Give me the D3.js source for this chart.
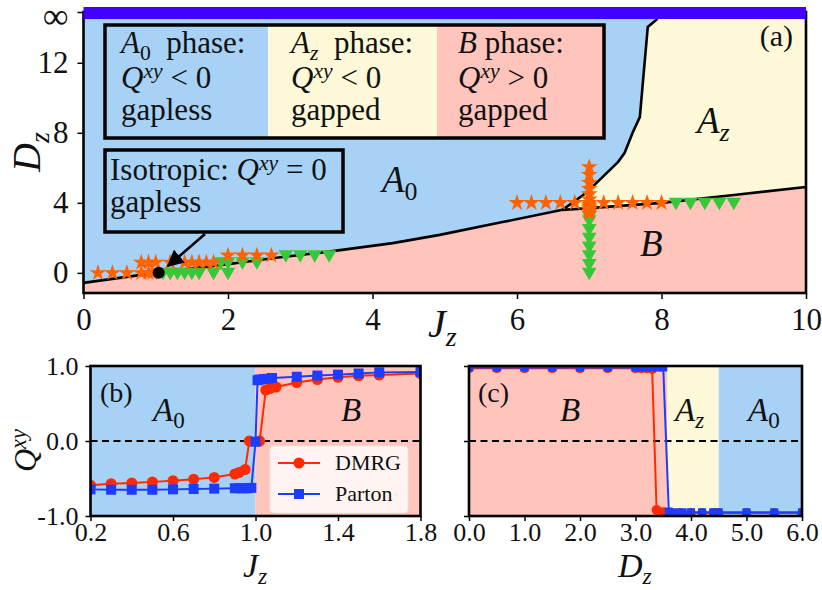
<!DOCTYPE html>
<html lang="en">
<head>
<meta charset="UTF-8">
<title>Phase diagram</title>
<script src="https://d3js.org/d3.v7.min.js"></script>
<style>
  body { margin: 0; background: #fff; }
  svg text { font-family: 'Liberation Serif', 'Times New Roman', serif; fill: #111; }
</style>
</head>
<body>
<div id="chart"></div>
<script>
// ---- data ----
// phase boundaries of panel (a)
const lowerJz = [0, 1, 2, 2.67, 3.37, 4.28, 4.93, 5.8, 6.63, 7, 8, 9, 10];
const lowerDz = [-0.57, 0.0, 0.5, 0.86, 1.2, 1.7, 2.17, 2.9, 3.6, 3.7, 4.0, 4.45, 4.9];
const upperJz = [6.63, 6.96, 7.19, 7.4, 7.49, 7.6, 7.7, 7.81, 7.93, 7.98];
const upperDz = [3.6, 4.57, 5.5, 6.34, 6.86, 8.0, 8.9, 14.05, 14.46, 14.9];

// horizontal cuts: Dz of each row, Jz of stars (Q<0) and triangles (Q>0)
const rowDz = [0, 0.6, 1.0, 4.0];
const rowStars = [
  [0.2, 0.4, 0.6, 0.8, 0.9, 0.95],
  [0.8, 0.9, 1.0, 1.2, 1.4, 1.5, 1.6, 1.7, 1.8],
  [2.0, 2.2, 2.4, 2.6],
  [6.0, 6.2, 6.4, 6.6, 6.8, 7.2, 7.4, 7.6, 7.8, 8.0]
];
const rowTris = [
  [1.1, 1.2, 1.3, 1.4, 1.5, 1.6, 1.8, 2.0],
  [1.9, 2.0, 2.2, 2.4],
  [2.8, 3.0, 3.2, 3.4],
  [8.2, 8.4, 8.6, 8.8, 9.0]
];
// vertical cut at Jz = 7
const colJz = 7;
const colStars = [3.4, 3.5, 3.6, 3.7, 3.8, 3.9, 4.0, 4.2, 4.5, 4.8, 5.15, 5.6, 6.05];
const colTris = [0, 0.5, 1.0, 1.5, 2.0, 2.5, 3.0, 3.2];
const isoPoint = [1.04, 0];

// panel (b): Q^xy vs Jz
const bPhaseEdges = [0.2, 1.0, 1.8];
const dmrgJz = [0.2, 0.3, 0.4, 0.5, 0.6, 0.7, 0.8, 0.9, 0.92, 0.95, 0.97, 1.02, 1.05, 1.07, 1.1, 1.2, 1.3, 1.4, 1.5, 1.6, 1.8];
const dmrgQ  = [-0.59, -0.57, -0.56, -0.545, -0.53, -0.51, -0.485, -0.44, -0.42, -0.38, 0.0, 0.0, 0.68, 0.70, 0.72, 0.78, 0.82, 0.85, 0.87, 0.88, 0.90];
const partonJz = [0.2, 0.3, 0.4, 0.5, 0.6, 0.7, 0.8, 0.9, 0.92, 0.94, 0.96, 0.98, 1.0, 1.01, 1.02, 1.04, 1.06, 1.08, 1.2, 1.3, 1.4, 1.5, 1.6, 1.8];
const partonQ  = [-0.645, -0.65, -0.65, -0.65, -0.645, -0.64, -0.635, -0.63, -0.63, -0.63, -0.63, -0.625, -0.01, 0.81, 0.82, 0.825, 0.83, 0.84, 0.857, 0.873, 0.885, 0.9, 0.915, 0.92];

// panel (c): Q^xy vs Dz at Jz = 7
const cPhaseEdges = [0, 3.57, 4.5, 6.0];
const dmrgDz = [0, 0.5, 1.0, 1.5, 2.0, 2.5, 3.0, 3.1, 3.2, 3.3, 3.38, 3.5, 3.6, 3.8, 4.0, 4.2, 4.4, 4.5, 5.0, 5.5, 6.0];
const dmrgQc = [0.97, 0.97, 0.97, 0.97, 0.97, 0.97, 0.97, 0.97, 0.97, 0.96, -0.92, -0.95, -0.96, -0.96, -0.96, -0.96, -0.96, -0.96, -0.96, -0.96, -0.96];
const partonDz = [0, 0.5, 1.0, 1.5, 2.0, 2.5, 3.0, 3.1, 3.2, 3.3, 3.4, 3.5, 3.6, 3.7, 3.85, 4.0, 4.2, 4.4, 4.5, 5.0, 5.5, 6.0];
const partonQc = [0.98, 0.98, 0.98, 0.98, 0.98, 0.98, 0.98, 0.98, 0.98, 0.98, 0.98, 0.98, -0.94, -0.95, -0.95, -0.95, -0.95, -0.95, -0.95, -0.95, -0.95, -0.95];

// ---- colours ----
const cBlue = '#a7d2f6', cYellow = '#fdf8d7', cPink = '#ffc5bd';
const cStar = '#ff6200', cTri = '#37c837';
const cRed = '#ff2a00', cLine = '#1e3cff';
const serif = "'Liberation Serif', 'Times New Roman', serif";

const W = 822, H = 590;
const svg = d3.select('#chart').append('svg').attr('width', W).attr('height', H)
  .attr('font-family', serif);

// small helper for math-like text: parts = [[text, style]] with i / sub / sup flags
function math(g, x, y, size, parts, anchor) {
  const t = g.append('text').attr('x', x).attr('y', y)
    .attr('text-anchor', anchor || 'start').attr('font-family', serif)
    .style('font-size', size + 'px').style('white-space', 'pre');
  let shift = 0;
  parts.forEach(([s, st]) => {
    let target = 0, fs = size;
    if (st.includes('sub')) { target = 0.22 * size; fs = 0.7 * size; }
    if (st.includes('sup')) { target = -0.32 * size; fs = 0.7 * size; }
    t.append('tspan').text(s).attr('dy', target - shift)
      .style('font-size', fs + 'px')
      .style('font-style', st.startsWith('i') ? 'italic' : 'normal');
    shift = target;
  });
  return t;
}

function styleAxis(g, fs) {
  g.attr('font-family', serif);
  g.select('.domain').remove();
  g.selectAll('.tick line').attr('stroke', '#000').attr('stroke-width', 1.5);
  g.selectAll('.tick text').style('font-size', fs + 'px').attr('fill', '#111');
}

// =================== panel (a) ===================
const xA = d3.scaleLinear().domain([0, 10]).range([83.5, 806]);
const yA = d3.scaleLinear().domain([-1.15, 14.9]).range([293, 12]);
const gA = svg.append('g');
const [yBot, yTop] = yA.domain();

gA.append('rect').attr('x', xA(0)).attr('y', yA(yTop))
  .attr('width', xA(10) - xA(0)).attr('height', yA(yBot) - yA(yTop)).attr('fill', cBlue);

const lowerPts = lowerJz.map((j, i) => [j, lowerDz[i]]);
const upperPts = upperJz.map((j, i) => [j, upperDz[i]]);
const toPx = p => [xA(p[0]), yA(p[1])];
const line = d3.line();

// B region (below the lower boundary)
const bPoly = [[0, yBot], ...lowerPts, [10, yBot]].map(toPx);
gA.append('path').attr('d', line(bPoly) + 'Z').attr('fill', cPink);
// Az region
const azPoly = [...lowerPts.filter(p => p[0] >= upperJz[0]), [10, yTop], ...upperPts.slice().reverse()].map(toPx);
gA.append('path').attr('d', line(azPoly) + 'Z').attr('fill', cYellow);

gA.append('path').attr('d', line(lowerPts.map(toPx))).attr('fill', 'none')
  .attr('stroke', '#000').attr('stroke-width', 2.6);
gA.append('path').attr('d', line(upperPts.map(toPx))).attr('fill', 'none')
  .attr('stroke', '#000').attr('stroke-width', 2.6);

// markers
const starPath = d3.symbol().type(d3.symbolStar).size(88)();
const triPath = d3.symbol().type(d3.symbolTriangle).size(92)();
const starPts = [], triPts = [];
rowDz.forEach((dz, r) => {
  rowStars[r].forEach(j => starPts.push([j, dz]));
  rowTris[r].forEach(j => triPts.push([j, dz]));
});
colStars.forEach(dz => starPts.push([colJz, dz]));
colTris.forEach(dz => triPts.push([colJz, dz]));

gA.selectAll('path.tri').data(triPts).join('path').attr('class', 'tri')
  .attr('d', triPath).attr('fill', cTri)
  .attr('transform', d => `translate(${xA(d[0])},${yA(d[1]) - 1}) rotate(180)`);
gA.selectAll('path.star').data(starPts).join('path').attr('class', 'star')
  .attr('d', starPath).attr('fill', cStar)
  .attr('transform', d => `translate(${xA(d[0])},${yA(d[1])})`);

gA.append('circle').attr('cx', xA(isoPoint[0])).attr('cy', yA(isoPoint[1])).attr('r', 6).attr('fill', '#000');

// arrow from the isotropic box to the point
svg.append('defs').append('marker').attr('id', 'ah')
  .attr('viewBox', '0 0 10 10').attr('refX', 9).attr('refY', 5)
  .attr('markerWidth', 6.5).attr('markerHeight', 6.5).attr('orient', 'auto')
  .append('path').attr('d', 'M0,0 L10,5 L0,10 Z').attr('fill', '#000');
gA.append('line').attr('x1', 205).attr('y1', 234).attr('x2', 168).attr('y2', 266)
  .attr('stroke', '#000').attr('stroke-width', 2.6).attr('marker-end', 'url(#ah)');

// legend box with three phases
const boxTop = 25, boxBot = 138;
[[105, 268, cBlue], [268, 437, cYellow], [437, 604, cPink]].forEach(([a, b, c]) => {
  gA.append('rect').attr('x', a).attr('y', boxTop).attr('width', b - a).attr('height', boxBot - boxTop).attr('fill', c);
});
gA.append('rect').attr('x', 105).attr('y', boxTop).attr('width', 499).attr('height', boxBot - boxTop)
  .attr('fill', 'none').attr('stroke', '#000').attr('stroke-width', 3.5);

const fsL = 31;
math(gA, 121, 53, fsL, [['A', 'i'], ['0', 'rsub'], ['  phase:', 'r']]);
math(gA, 121, 88, fsL, [['Q', 'i'], ['xy', 'isup'], [' < 0', 'r']]);
math(gA, 121, 120, fsL, [['gapless', 'r']]);
math(gA, 291, 53, fsL, [['A', 'i'], ['z', 'isub'], ['  phase:', 'r']]);
math(gA, 291, 88, fsL, [['Q', 'i'], ['xy', 'isup'], [' < 0', 'r']]);
math(gA, 291, 120, fsL, [['gapped', 'r']]);
math(gA, 458, 53, fsL, [['B', 'i'], [' phase:', 'r']]);
math(gA, 458, 88, fsL, [['Q', 'i'], ['xy', 'isup'], [' > 0', 'r']]);
math(gA, 458, 120, fsL, [['gapped', 'r']]);

gA.append('rect').attr('x', 105).attr('y', 150).attr('width', 238).attr('height', 82)
  .attr('fill', cBlue).attr('stroke', '#000').attr('stroke-width', 3.5);
math(gA, 110, 180, fsL, [['Isotropic: ', 'r'], ['Q', 'i'], ['xy', 'isup'], [' = 0', 'r']]);
math(gA, 110, 212, fsL, [['gapless', 'r']]);

// region labels
math(gA, 382, 192, 37, [['A', 'i'], ['0', 'rsub']]);
math(gA, 697, 133, 37, [['A', 'i'], ['z', 'isub']]);
math(gA, 640, 256, 37, [['B', 'i']]);
gA.append('text').attr('x', 793).attr('y', 46).attr('text-anchor', 'end').style('font-size', '30px').text('(a)');

// spines + axes
gA.append('rect').attr('x', xA(0)).attr('y', yA(yTop)).attr('width', xA(10) - xA(0)).attr('height', yA(yBot) - yA(yTop))
  .attr('fill', 'none').attr('stroke', '#000').attr('stroke-width', 2.6);
const axA = gA.append('g').attr('transform', `translate(0,${yA(yBot)})`)
  .call(d3.axisBottom(xA).tickValues([0, 2, 4, 6, 8, 10]).tickSize(6).tickPadding(9).tickFormat(d3.format('d')));
styleAxis(axA, 31);
const ayA = gA.append('g').attr('transform', `translate(${xA(0)},0)`)
  .call(d3.axisLeft(yA).tickValues([0, 4, 8, 12, yTop]).tickSize(6).tickPadding(9)
    .tickFormat(d => d > 13 ? '\u221e' : d3.format('d')(d)));
styleAxis(ayA, 31);
ayA.selectAll('.tick text').filter(d => d > 13).style('font-size', '36px').attr('dy', '0.42em');

// top strip: Dz = infinity
gA.append('rect').attr('x', xA(0)).attr('y', yA(yTop) - 5).attr('width', xA(10) - xA(0)).attr('height', 12)
  .attr('fill', '#4200ff');

math(svg, 428, 337, 40, [['J', 'i'], ['z', 'isub']]);
math(svg, 0, 0, 40, [['D', 'i'], ['z', 'isub']]).attr('transform', 'translate(40,172) rotate(-90)');

// =================== panels (b), (c) ===================
const yQ = d3.scaleLinear().domain([-1, 1]).range([516, 366]);
const xB = d3.scaleLinear().domain([0.2, 1.8]).range([90.5, 420.5]);
const xC = d3.scaleLinear().domain([0, 6]).range([469, 802]);

function panel(xs, edges, colours, series, id, showY) {
  const g = svg.append('g');
  const [x0, x1] = xs.range();
  edges.slice(0, -1).forEach((e, i) => {
    g.append('rect').attr('x', xs(e)).attr('y', yQ(1)).attr('width', xs(edges[i + 1]) - xs(e))
      .attr('height', yQ(-1) - yQ(1)).attr('fill', colours[i]);
  });
  g.append('line').attr('x1', x0).attr('x2', x1).attr('y1', yQ(0)).attr('y2', yQ(0))
    .attr('stroke', '#000').attr('stroke-width', 1.8).attr('stroke-dasharray', '7,4.5');
  g.append('clipPath').attr('id', id).append('rect')
    .attr('x', x0).attr('y', yQ(1)).attr('width', x1 - x0).attr('height', yQ(-1) - yQ(1));
  const gc = g.append('g').attr('clip-path', `url(#${id})`);
  series.forEach(s => {
    const pts = s.x.map((v, i) => [xs(v), yQ(s.y[i])]);
    gc.append('path').attr('d', d3.line()(pts)).attr('fill', 'none').attr('stroke', s.color).attr('stroke-width', 2);
    if (s.shape === 'circle') {
      gc.selectAll(null).data(pts).join('circle').attr('cx', d => d[0]).attr('cy', d => d[1]).attr('r', s.size).attr('fill', s.color);
    } else {
      gc.selectAll(null).data(pts).join('rect').attr('x', d => d[0] - s.size).attr('y', d => d[1] - s.size)
        .attr('width', 2 * s.size).attr('height', 2 * s.size).attr('fill', s.color);
    }
  });
  g.append('rect').attr('x', x0).attr('y', yQ(1)).attr('width', x1 - x0).attr('height', yQ(-1) - yQ(1))
    .attr('fill', 'none').attr('stroke', '#000').attr('stroke-width', 2.6);
  const ay = g.append('g').attr('transform', `translate(${x0},0)`)
    .call(d3.axisLeft(yQ).tickValues([-1, 0, 1]).tickSize(5).tickPadding(7));
  styleAxis(ay, 26);
  ay.selectAll('.tick text').text(d => showY ? d3.format('.1f')(d).replace('\u2212', '-') : '');
  return g;
}

const gB = panel(xB, bPhaseEdges, [cBlue, cPink], [
  { x: dmrgJz, y: dmrgQ, color: cRed, shape: 'circle', size: 5.5 },
  { x: partonJz, y: partonQ, color: cLine, shape: 'square', size: 5 }
], 'clipB', true);

const axB = gB.append('g').attr('transform', `translate(0,${yQ(-1)})`)
  .call(d3.axisBottom(xB).tickValues([0.2, 0.6, 1.0, 1.4, 1.8]).tickSize(5).tickPadding(2).tickFormat(d3.format('.1f')));
styleAxis(axB, 26);

// legend in (b)
const lg = gB.append('g');
lg.append('rect').attr('x', 270).attr('y', 446).attr('width', 138).attr('height', 67).attr('rx', 4)
  .attr('fill', '#fff').attr('fill-opacity', 0.8).attr('stroke', '#e6e6e6');
[['DMRG', cRed, 'circle', 463], ['Parton', cLine, 'square', 494]].forEach(([lab, col, sh, y]) => {
  lg.append('line').attr('x1', 278).attr('x2', 320).attr('y1', y).attr('y2', y).attr('stroke', col).attr('stroke-width', 2);
  if (sh === 'circle') lg.append('circle').attr('cx', 299).attr('cy', y).attr('r', 5.5).attr('fill', col);
  else lg.append('rect').attr('x', 294).attr('y', y - 5).attr('width', 10).attr('height', 10).attr('fill', col);
  lg.append('text').attr('x', 335).attr('y', y + 7).style('font-size', '22px').text(lab);
});

gB.append('text').attr('x', 100).attr('y', 402).style('font-size', '28px').text('(b)');
math(gB, 153, 421, 33, [['A', 'i'], ['0', 'rsub']]);
math(gB, 341, 421, 33, [['B', 'i']]);
math(svg, 243, 577, 34, [['J', 'i'], ['z', 'isub']]);
math(svg, 0, 0, 32, [['Q', 'i'], ['xy', 'isup']]).attr('transform', 'translate(36,472) rotate(-90)');

const gC = panel(xC, cPhaseEdges, [cPink, cYellow, cBlue], [
  { x: dmrgDz, y: dmrgQc, color: cRed, shape: 'circle', size: 5 },
  { x: partonDz, y: partonQc, color: cLine, shape: 'square', size: 4 }
], 'clipC', false);
const axC = gC.append('g').attr('transform', `translate(0,${yQ(-1)})`)
  .call(d3.axisBottom(xC).tickValues([0, 1, 2, 3, 4, 5, 6]).tickSize(5).tickPadding(2).tickFormat(d3.format('.1f')));
styleAxis(axC, 26);
gC.append('text').attr('x', 478).attr('y', 402).style('font-size', '28px').text('(c)');
math(gC, 560, 421, 33, [['B', 'i']]);
math(gC, 675, 421, 33, [['A', 'i'], ['z', 'isub']]);
math(gC, 748, 421, 33, [['A', 'i'], ['0', 'rsub']]);
math(svg, 618, 577, 34, [['D', 'i'], ['z', 'isub']]);
</script>
</body>
</html>
